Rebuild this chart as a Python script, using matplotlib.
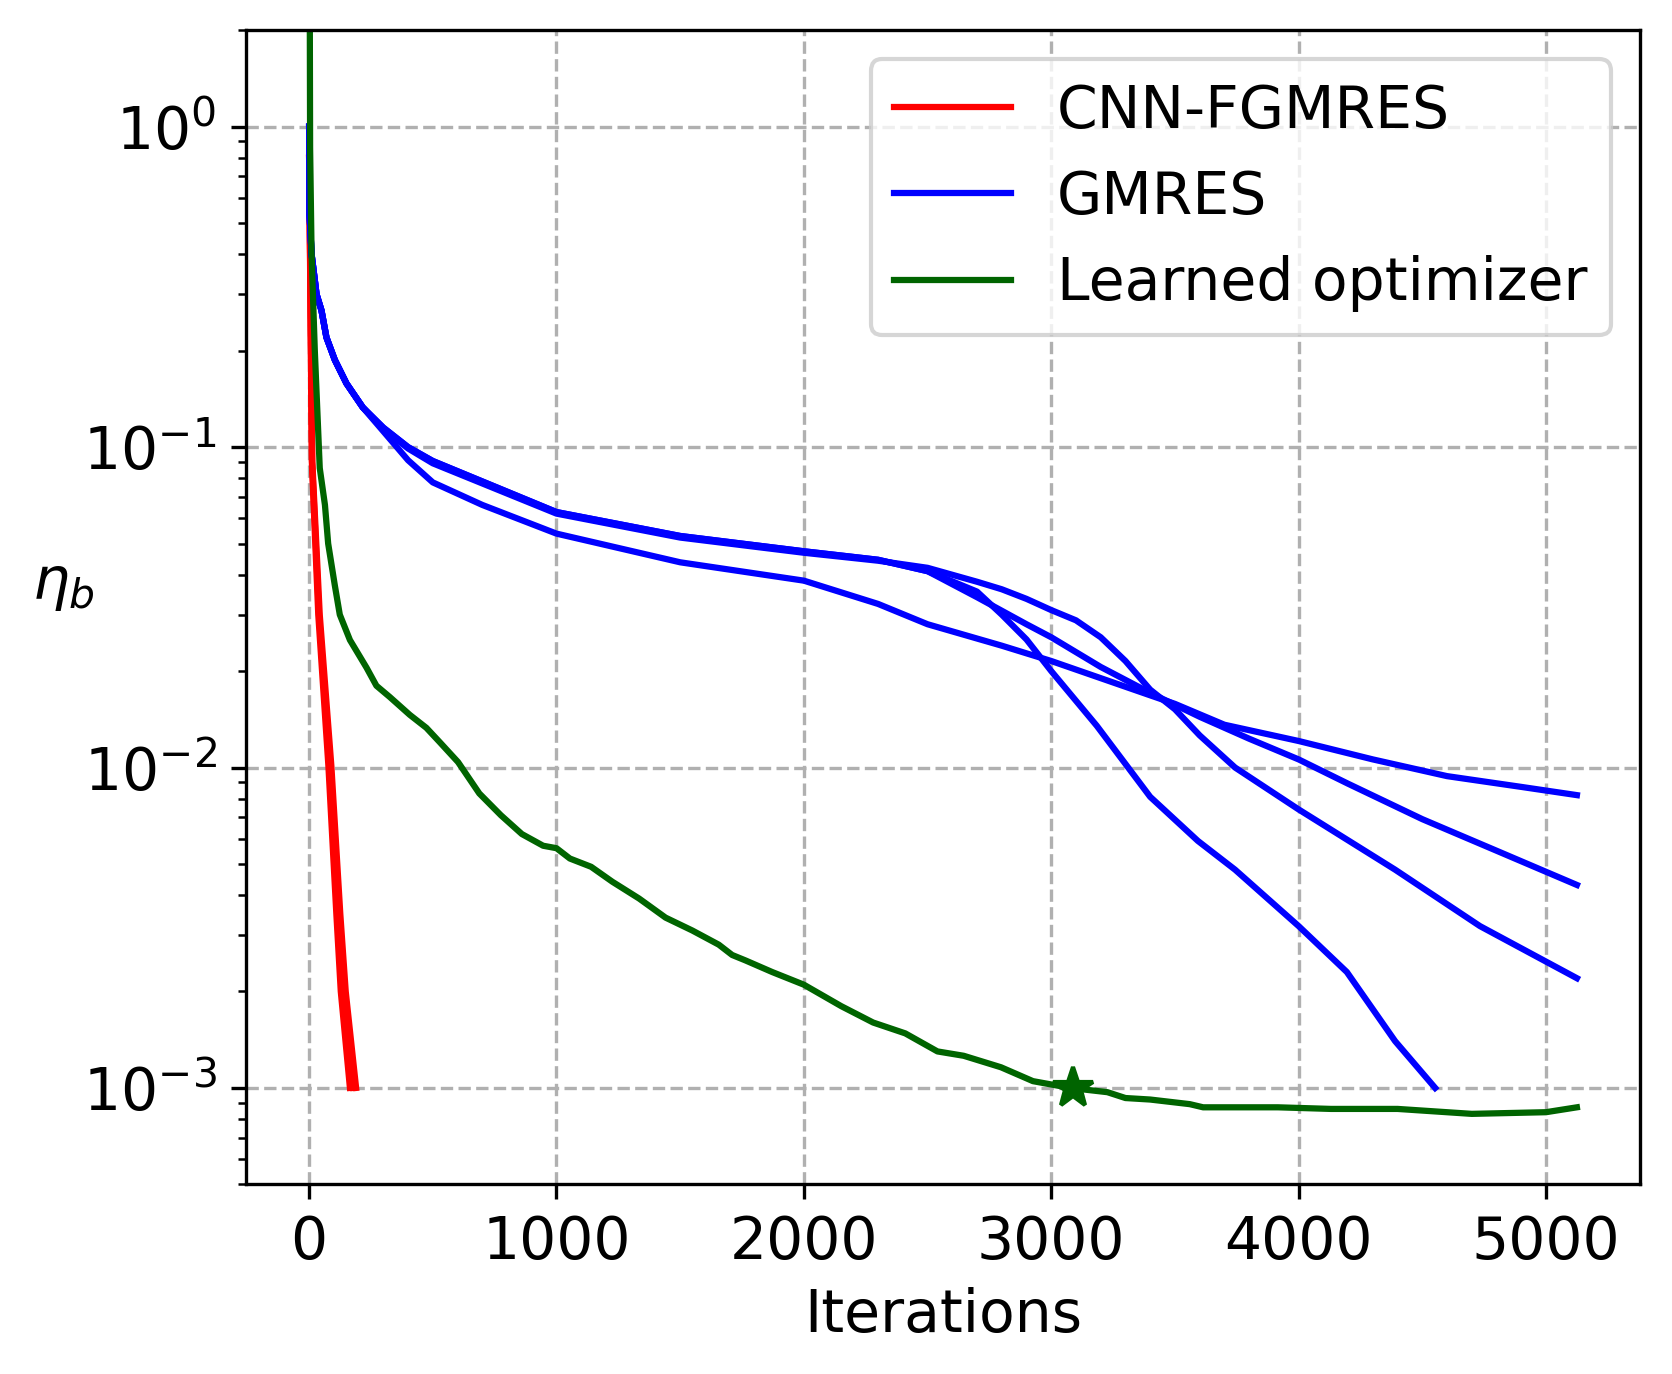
import matplotlib
matplotlib.use("Agg")
import matplotlib.pyplot as plt
from matplotlib.lines import Line2D

# ---------------- data ----------------
# CNN-FGMRES runs
red1_x = [0, 11, 37, 78, 110, 128, 165]
red1_y = [0.8, 0.09, 0.03, 0.0101, 0.0035, 0.002, 0.001]
red2_x = [0, 12, 40, 84, 118, 138, 178]
red2_y = [0.8, 0.09, 0.03, 0.0101, 0.0035, 0.002, 0.001]
red3_x = [0, 13, 43, 90, 126, 148, 190]
red3_y = [0.8, 0.09, 0.03, 0.0101, 0.0035, 0.002, 0.001]

# GMRES runs
gm_head_x = [0, 2, 10, 30, 50, 70, 104, 151, 217]
gm_head_y = [1.0, 0.53, 0.40, 0.30, 0.267, 0.22, 0.187, 0.158, 0.133]

g1_x = gm_head_x + [300, 400, 500, 700, 1000, 1500, 2000, 2300, 2500, 2800, 3000, 3400, 3500, 3700,
                    4000, 4300, 4600, 4900, 5125]
g1_y = gm_head_y + [0.112, 0.091, 0.0776, 0.066, 0.0537, 0.0437, 0.0383, 0.0324, 0.028, 0.024, 0.0215,
                    0.0168, 0.0158, 0.0136, 0.0121, 0.0106, 0.0094, 0.0087, 0.0082]
g2_x = gm_head_x + [300, 400, 500, 1000, 1500, 2000, 2300, 2500, 2700, 2900, 3000, 3200, 3400, 3600,
                    3800, 4000, 4200, 4500, 4800, 5125]
g2_y = gm_head_y + [0.115, 0.1, 0.0905, 0.0627, 0.0528, 0.0473, 0.0445, 0.041, 0.034, 0.028, 0.0255,
                    0.0206, 0.0171, 0.0144, 0.0123, 0.0106, 0.0089, 0.0069, 0.0055, 0.0043]
g3_x = gm_head_x + [300, 400, 500, 1000, 1500, 2000, 2300, 2500, 2700, 2800, 2900, 3000, 3100, 3200,
                    3300, 3400, 3500, 3600, 3743, 4000, 4390, 4733, 5125]
g3_y = gm_head_y + [0.114, 0.099, 0.089, 0.0620, 0.0522, 0.0468, 0.0442, 0.042, 0.038, 0.036, 0.0336,
                    0.031, 0.0288, 0.0255, 0.0215, 0.0175, 0.0152, 0.0126, 0.010, 0.0074, 0.0048,
                    0.0032, 0.0022]
g4_x = gm_head_x + [300, 400, 500, 1000, 1500, 2000, 2300, 2500, 2600, 2700, 2800, 2900, 3000, 3184,
                    3400, 3593, 3743, 4000, 4195, 4390, 4552]
g4_y = gm_head_y + [0.115, 0.1, 0.0905, 0.0627, 0.0528, 0.0473, 0.0445, 0.041, 0.0381, 0.0354, 0.030,
                    0.0251, 0.020, 0.0135, 0.0081, 0.0059, 0.0048, 0.0032, 0.0023, 0.0014, 0.001]

# Learned optimizer
lo_x = [0, 4, 10, 23, 43, 64, 77, 104, 124, 165, 232, 272, 326, 407, 474, 528, 602, 688, 775, 860,
        946, 1000, 1054, 1140, 1226, 1334, 1441, 1549, 1656, 1710, 1764, 1872, 2000, 2151, 2280, 2410,
        2540, 2646, 2797, 2926, 3077, 3227, 3300, 3400, 3560, 3614, 3916, 4131, 4400, 4700, 5000, 5125]
lo_y = [20, 0.86, 0.4, 0.2, 0.086, 0.066, 0.05, 0.037, 0.030, 0.025, 0.0205, 0.018, 0.0166, 0.0146,
        0.0133, 0.012, 0.0104, 0.0083, 0.0071, 0.0062, 0.0057, 0.0056, 0.0052, 0.0049, 0.0044, 0.0039,
        0.0034, 0.0031, 0.0028, 0.0026, 0.0025, 0.0023, 0.0021, 0.0018, 0.0016, 0.00148, 0.0013,
        0.00126, 0.00116, 0.00105, 0.001, 0.00097, 0.00093, 0.00092, 0.00089, 0.00087, 0.00087,
        0.00086, 0.00086, 0.00083, 0.00084, 0.00087]
star_x = [3090]
star_y = [0.001]

# ---------------- plot ----------------
plt.rcParams['font.family'] = ['DejaVu Sans']
fs = 14
fig = plt.figure(figsize=(1672 / 300, 1374 / 300), dpi=300)
ax = fig.add_axes([0.147, 0.138, 0.834, 0.840])

lw = 1.5
for xs, ys in [(red1_x, red1_y), (red2_x, red2_y), (red3_x, red3_y)]:
    ax.plot(xs, ys, color='red', lw=lw)
for xs, ys in [(g1_x, g1_y), (g2_x, g2_y), (g3_x, g3_y), (g4_x, g4_y)]:
    ax.plot(xs, ys, color='blue', lw=lw)
ax.plot(lo_x, lo_y, color='darkgreen', lw=lw)
ax.plot(star_x, star_y, marker='*', color='darkgreen', markersize=10, linestyle='none')

ax.set_yscale('log')
ax.set_ylim(5e-4, 2)
ax.set_xlim(-256, 5381)
ax.set_xticks([0, 1000, 2000, 3000, 4000, 5000])
ax.grid(True, which='major', linestyle='--', color='#b0b0b0', lw=0.8)
ax.tick_params(labelsize=fs)
ax.set_xlabel('Iterations', fontsize=fs)
ax.set_ylabel(r'$\eta_b$', fontsize=fs, rotation=0, ha='center', va='center')
ax.yaxis.set_label_coords(-0.131, 0.52)

handles = [Line2D([], [], color='red', lw=lw), Line2D([], [], color='blue', lw=lw),
           Line2D([], [], color='darkgreen', lw=lw)]
ax.legend(handles, ['CNN-FGMRES', 'GMRES', 'Learned optimizer'], loc='upper right', fontsize=fs)

fig.savefig('out.png', dpi=300)
